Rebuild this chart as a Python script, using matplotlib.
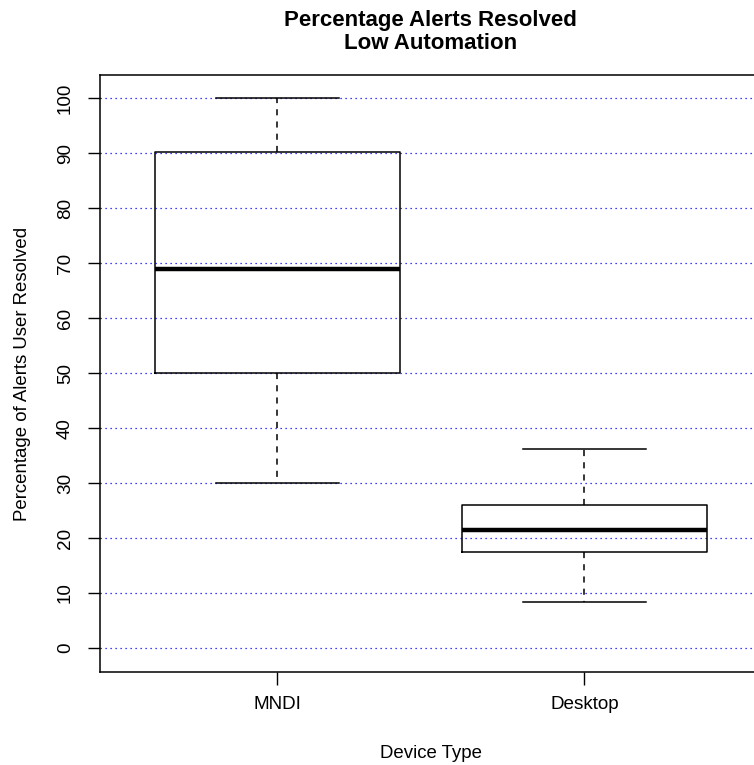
import matplotlib
matplotlib.use("Agg")
import matplotlib.pyplot as plt

plt.rcParams['font.family'] = ['Liberation Sans', 'DejaVu Sans']

# box summary values
devices = ["MNDI", "Desktop"]
whisker_low = [30.0, 8.4]
q1 = [50.0, 17.5]
medians = [69.0, 21.5]
q3 = [90.2, 26.0]
whisker_high = [100.0, 36.2]
yticks = [0, 10, 20, 30, 40, 50, 60, 70, 80, 90, 100]

fig = plt.figure(figsize=(7.54, 7.65), dpi=100)
ax = fig.add_axes([0.132, 0.1216, 0.879, 0.780])

stats = []
for i in range(len(devices)):
    stats.append(dict(label=devices[i], whislo=whisker_low[i], q1=q1[i],
                      med=medians[i], q3=q3[i], whishi=whisker_high[i], fliers=[]))

for y in yticks:
    ax.axhline(y, color='blue', linestyle=(0, (1, 3)), linewidth=0.9, zorder=0)

ax.bxp(stats, positions=[1, 2], widths=0.8, showfliers=False,
       boxprops=dict(color='black', linewidth=1.1),
       medianprops=dict(color='black', linewidth=3.2),
       whiskerprops=dict(color='black', linewidth=1.1, linestyle=(0, (4, 4))),
       capprops=dict(color='black', linewidth=1.1),
       capwidths=0.4)

ax.set_xlim(0.42, 2.58)
ax.set_ylim(-4.36, 104.18)
ax.set_yticks(yticks)
ax.set_yticklabels([str(v) for v in yticks], rotation=90, va='center')
ax.set_xticks([1, 2])
ax.set_xticklabels(devices)
ax.tick_params(axis='both', labelsize=13.6, length=9, width=1)
ax.tick_params(axis='x', pad=8)
ax.tick_params(axis='y', pad=9.5)

for s in ax.spines.values():
    s.set_linewidth(1.1)

ax.set_xlabel("Device Type", fontsize=13.4, labelpad=23)
ax.set_ylabel("Percentage of Alerts User Resolved", fontsize=13.4, labelpad=18.5)
ax.set_title("Percentage Alerts Resolved\nLow Automation", fontsize=16,
             fontweight='bold', pad=19, linespacing=1.1)

fig.savefig("out.png", dpi=100)
